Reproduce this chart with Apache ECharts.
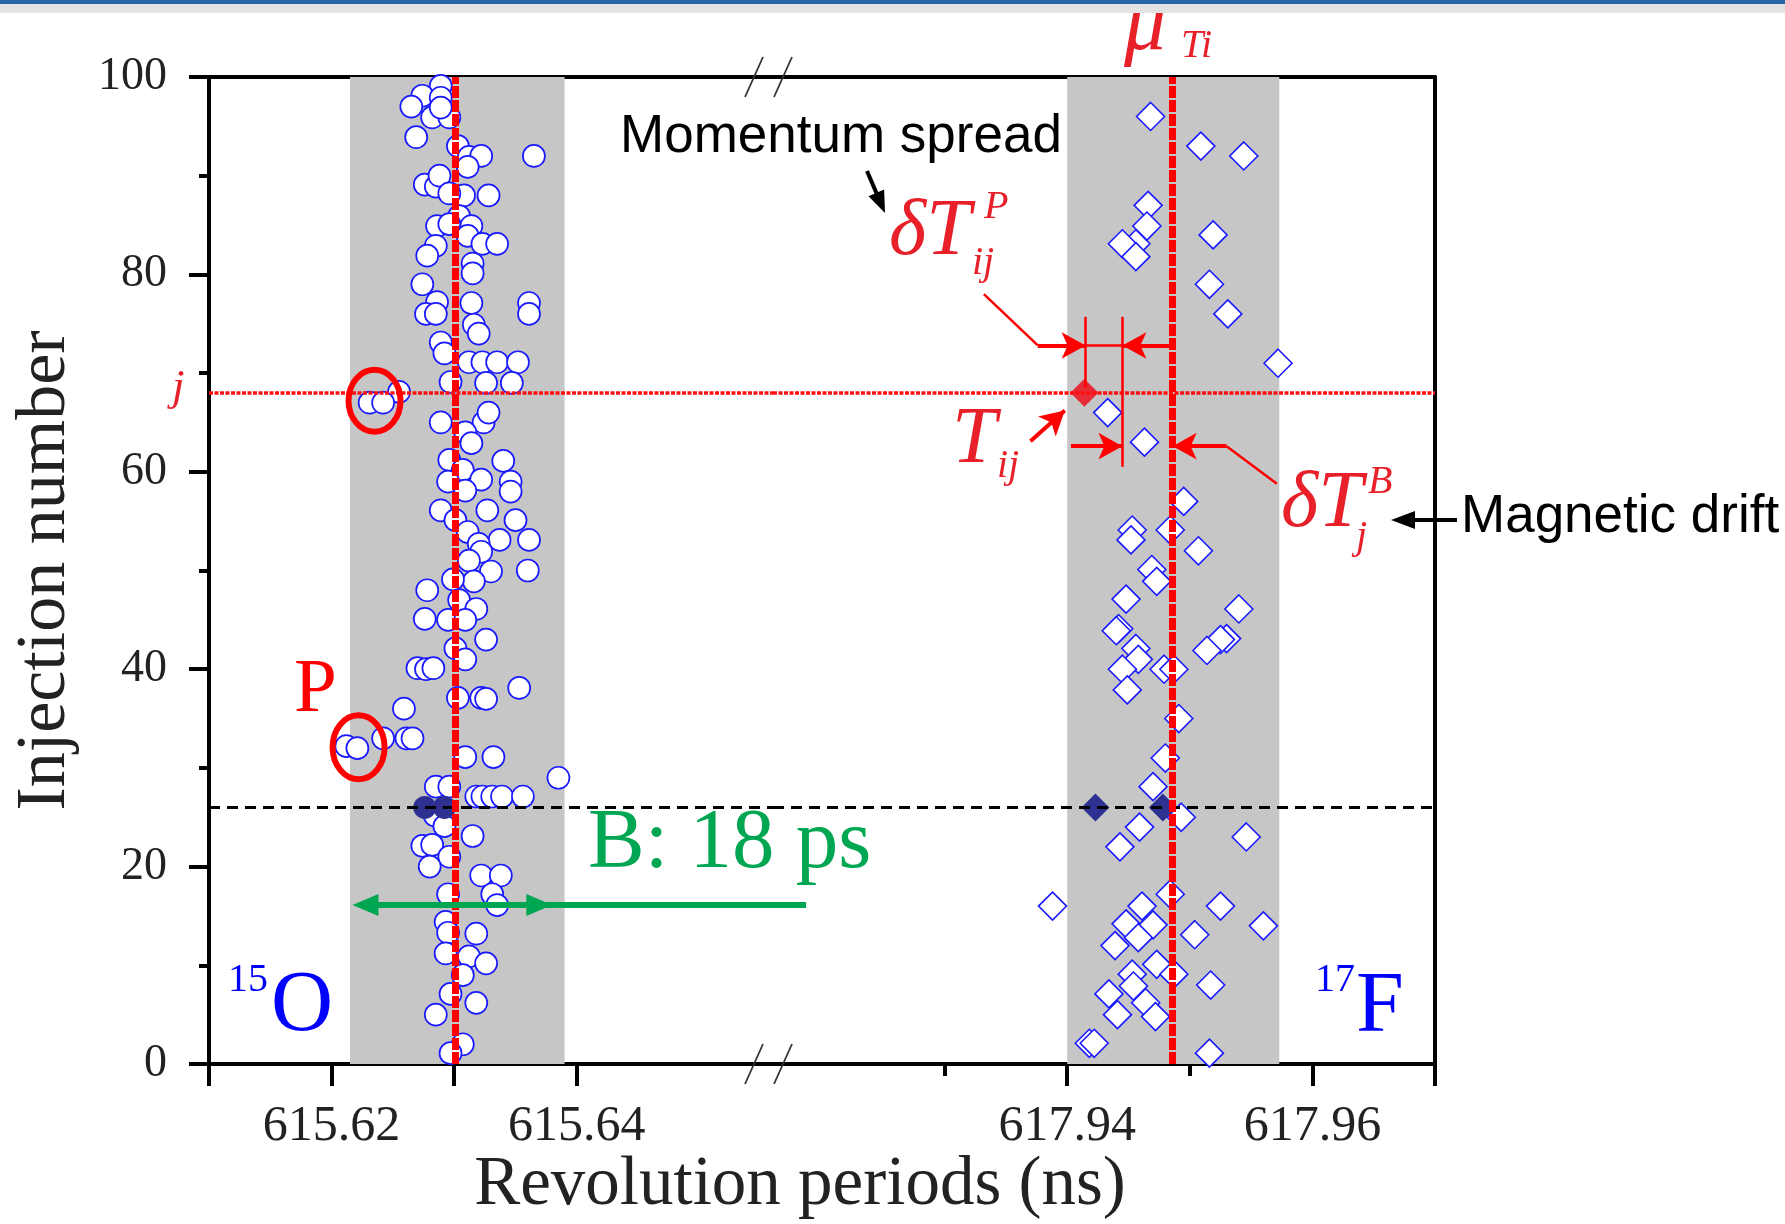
<!DOCTYPE html>
<html><head><meta charset="utf-8">
<script src="https://cdn.jsdelivr.net/npm/echarts@6/dist/echarts.min.js"></script>
<style>html,body{margin:0;padding:0;background:#fff}#c{width:1785px;height:1224px}</style>
</head><body><div id="c"></div>
<script>
// ---- data ----
const O15_period = [615.6289,615.6274,615.6289,615.6265,615.6282,615.6296,615.6289,615.6269,615.6303,615.6312,615.6322,615.6311,615.6365,615.6276,615.6285,615.6288,615.6308,615.6328,615.6296,615.6286,615.6304,615.6314,615.6296,615.6285,615.6311,615.6323,615.6335,615.6278,615.6315,615.6315,615.6274,615.6286,615.6277,615.6285,615.6314,615.6361,615.6361,615.6316,615.6320,615.6289,615.6292,615.6312,615.6323,615.6335,615.6352,615.6297,615.6326,615.6347,615.6255,615.6231,615.6242,615.6289,615.6324,615.6328,615.6309,615.6314,615.6340,615.6296,615.6307,615.6295,615.6322,615.6346,615.6346,615.6309,615.6289,615.6327,615.6301,615.6350,615.6311,615.6337,615.6361,615.6320,
615.6322,615.6312,615.6330,615.6360,615.6316,615.6278,615.6299,615.6304,615.6318,615.6276,615.6295,615.6309,615.6326,615.6301,615.6309,615.6270,615.6277,615.6283,615.6353,615.6303,615.6322,615.6326,615.6259,615.6242,615.6261,615.6266,615.6212,615.6221,615.6309,615.6332,615.6385,615.6285,615.6296,615.6318,615.6323,615.6331,615.6339,615.6356,615.6284,615.6292,615.6315,615.6274,615.6282,615.6296,615.6280,615.6322,615.6338,615.6295,615.6331,615.6335,615.6293,615.6295,615.6318,615.6293,615.6312,615.6326,615.6307,615.6297,615.6318,615.6285,615.6307,615.6297];
const O15_injection = [99.1,98.1,97.9,97.0,95.9,95.9,96.9,93.9,93.0,91.9,92.0,90.9,92.0,89.1,88.9,90.0,88.0,88.0,88.2,84.9,85.9,84.9,85.1,82.9,83.9,83.1,83.1,81.9,81.1,80.1,79.0,77.2,76.0,76.0,77.1,77.1,76.0,74.9,74.0,73.1,72.0,71.1,71.1,71.1,71.1,69.1,69.0,69.0,68.1,67.0,67.0,65.0,65.0,66.0,64.0,62.9,61.1,61.2,60.2,59.0,59.2,59.0,58.0,58.1,56.1,56.1,55.1,55.1,53.9,53.1,53.1,52.7,
51.9,51.0,49.9,50.0,48.9,48.0,49.1,47.0,46.1,45.1,45.0,45.0,43.0,42.1,41.0,40.1,40.0,40.1,38.1,37.1,37.1,37.0,36.0,33.0,33.0,33.0,32.2,32.0,31.1,31.1,29.0,28.1,28.1,27.1,27.1,27.1,27.1,27.1,25.2,24.1,23.1,22.1,22.2,21.0,20.0,19.1,19.1,17.2,17.2,16.1,14.4,13.3,13.2,11.2,10.9,10.2,9.0,7.1,6.2,5.0,2.0,1.1];
const F17_period = [617.9468,617.9509,617.9544,617.9466,617.9465,617.9456,617.9445,617.9456,617.9519,617.9516,617.9531,617.9572,617.9433,617.9463,617.9495,617.9453,617.9452,617.9484,617.9507,617.9469,617.9473,617.9448,617.9540,617.9442,617.9440,617.9456,617.9458,617.9530,617.9525,617.9514,617.9445,617.9449,617.9479,617.9487,617.9491,617.9480,617.9470,617.9493,617.9459,617.9443,617.9546,617.9388,617.9461,617.9484,617.9525,617.9560,617.9448,617.9470,617.9458,617.9439,617.9504,617.9473,617.9453,617.9487,617.9517,617.9434,617.9454,617.9464,617.9441,617.9472,617.9418,617.9422,617.9516];
const F17_injection = [96,93,92,87,84.9,83.1,83.1,81.8,84,79,76,71,66,63,57,54.1,53.1,54.1,52.0,50.1,48.9,47.1,46.1,44.1,43.9,42.1,41.0,43.1,43.0,41.9,40.0,37.9,40.0,40.0,35.0,31.0,28.1,25.0,24.0,22.0,23.0,16.0,16.0,17.2,16.0,14.0,14.2,14.1,12.8,12.0,13.1,10.1,9.1,9.1,8.0,7.1,7.9,6.2,5.0,4.8,2.1,2.1,1.1];
const O15_marked_period = [615.6276, 615.6292];
const F17_marked_period = [617.9423, 617.9478];
const B_injection = 26;             // dashed reference injection
const j_injection = 68;             // injection j
const Tij_period = [617.9414];
const mu_O15 = 615.6301, mu_F17 = 617.9486;
const O15_band = [615.6215, 615.6390];
const F17_band = [617.9400, 617.9573];
const xTicksLeft = [615.61, 615.62, 615.63, 615.64];
const xLabelsLeft = [615.62, 615.64];
const xTicksRight = [617.94, 617.96, 617.97];
const xMinorRight = [617.93, 617.95];
const xLabelsRight = [617.94, 617.96];

const pairs = (xs, ys) => xs.map((x, i) => [x, Array.isArray(ys) ? ys[i] : ys]);

const SERIF = '"Liberation Serif", "Times New Roman", serif';
const SANS = '"Liberation Sans", Arial, sans-serif';
const chart = echarts.init(document.getElementById('c'), null, {renderer: 'canvas'});

const G0 = {left: 209, top: 77, width: 564, height: 987};
const G1 = {left: 773, top: 77, width: 662, height: 987};
const LINE = {color: '#000', width: 4};

function xAx(grid, min, max, pos, ticks, labels, tickLen, showLine) {
  return {
    gridIndex: grid, type: 'value', min: min, max: max, position: pos,
    axisLine: {show: showLine, onZero: false, lineStyle: LINE},
    axisTick: ticks ? {show: true, inside: false, length: tickLen, customValues: ticks, lineStyle: {color: '#000', width: 4}} : {show: false},
    axisLabel: labels ? {show: true, customValues: labels, formatter: v => Number(v).toFixed(2), fontFamily: SERIF, fontSize: 50, color: '#222', margin: 38} : {show: false},
    splitLine: {show: false}, minorTick: {show: false}
  };
}

const option = {
  animation: false,
  backgroundColor: '#fff',
  textStyle: {fontFamily: SERIF},
  grid: [G0, G1],
  xAxis: [
    xAx(0, 615.61, 615.656, 'bottom', xTicksLeft, xLabelsLeft, 22, true),
    xAx(0, 615.61, 615.656, 'top', null, null, 0, true),
    xAx(1, 617.916, 617.97, 'bottom', xTicksRight, xLabelsRight, 22, true),
    xAx(1, 617.916, 617.97, 'top', null, null, 0, true),
    xAx(1, 617.916, 617.97, 'bottom', xMinorRight, null, 12, false)
  ],
  yAxis: [
    {gridIndex: 0, type: 'value', min: 0, max: 100, interval: 20, position: 'left',
     axisLine: {show: true, onZero: false, lineStyle: LINE},
     axisTick: {show: true, length: 20, lineStyle: {color: '#000', width: 4}},
     minorTick: {show: true, splitNumber: 2, length: 10, lineStyle: {color: '#000', width: 4}},
     axisLabel: {fontFamily: SERIF, fontSize: 46, color: '#222', margin: 42},
     splitLine: {show: false}, minorSplitLine: {show: false},
     name: 'Injection number', nameLocation: 'middle', nameGap: 128,
     nameTextStyle: {fontFamily: SERIF, fontSize: 70, color: '#222'}},
    {gridIndex: 1, type: 'value', min: 0, max: 100, position: 'right',
     axisLine: {show: true, onZero: false, lineStyle: LINE},
     axisTick: {show: false}, axisLabel: {show: false}, splitLine: {show: false}}
  ],
  series: [
    // gray bands
    {type: 'scatter', xAxisIndex: 0, yAxisIndex: 0, data: [], z: 0, silent: true,
     markArea: {silent: true, precision: 6, itemStyle: {color: '#c6c6c6'}, data: [[{xAxis: O15_band[0]}, {xAxis: O15_band[1]}]]}},
    {type: 'scatter', xAxisIndex: 2, yAxisIndex: 1, data: [], z: 0, silent: true,
     markArea: {silent: true, precision: 6, itemStyle: {color: '#c6c6c6'}, data: [[{xAxis: F17_band[0]}, {xAxis: F17_band[1]}]]}},
    // horizontal reference lines
    ...[[0, 0], [2, 1]].map(([xi, yi]) => ({
      type: 'scatter', xAxisIndex: xi, yAxisIndex: yi, data: [], z: 1, silent: true,
      markLine: {silent: true, precision: 6, symbol: 'none', label: {show: false}, data: [
        {yAxis: B_injection, lineStyle: {color: '#000', width: 3, type: [11, 7]}},
        {yAxis: j_injection, lineStyle: {color: '#ff1010', width: 3.5, type: [4, 1.5]}}
      ]}
    })),
    // 15O
    {name: '15O', type: 'scatter', xAxisIndex: 0, yAxisIndex: 0, z: 3, symbol: 'circle', symbolSize: 22,
     itemStyle: {color: '#fff', borderColor: '#1a1aff', borderWidth: 1.7, opacity: 1},
     data: pairs(O15_period, O15_injection)},
    {type: 'scatter', xAxisIndex: 0, yAxisIndex: 0, z: 4, symbol: 'circle', symbolSize: 23,
     itemStyle: {color: '#2e3192', opacity: 1}, data: pairs(O15_marked_period, B_injection)},
    // 17F
    {name: '17F', type: 'scatter', xAxisIndex: 2, yAxisIndex: 1, z: 3, symbol: 'diamond', symbolSize: 28,
     itemStyle: {color: '#fff', borderColor: '#1a1aff', borderWidth: 1.6, opacity: 1},
     data: pairs(F17_period, F17_injection)},
    {type: 'scatter', xAxisIndex: 2, yAxisIndex: 1, z: 4, symbol: 'diamond', symbolSize: 28,
     itemStyle: {color: '#2e3192', opacity: 1}, data: pairs(F17_marked_period, B_injection)},
    {type: 'scatter', xAxisIndex: 2, yAxisIndex: 1, z: 4, symbol: 'diamond', symbolSize: 28,
     itemStyle: {color: '#e8202a', opacity: 0.92}, data: pairs(Tij_period, j_injection)},
    // mean lines
    {type: 'scatter', xAxisIndex: 0, yAxisIndex: 0, data: [], z: 6, silent: true,
     markLine: {silent: true, precision: 6, symbol: 'none', label: {show: false}, lineStyle: {color: '#ff0000', width: 7, type: [12, 2]},
       data: [{xAxis: mu_O15}]}},
    {type: 'scatter', xAxisIndex: 2, yAxisIndex: 1, data: [], z: 6, silent: true,
     markLine: {silent: true, precision: 6, symbol: 'none', label: {show: false}, lineStyle: {color: '#ff0000', width: 7, type: [12, 2]},
       data: [{xAxis: mu_F17}]}},
    // annotation arrows (delta T construction)
    {type: 'scatter', xAxisIndex: 2, yAxisIndex: 1, data: [], z: 7, silent: true,
     markLine: {silent: true, precision: 6, symbolSize: [20, 24], label: {show: false},
       lineStyle: {color: '#ff0000', width: 4, type: 'solid'},
       data: [
         [{coord: [617.9415, 75.7], symbol: 'none', lineStyle: {width: 2.5}}, {coord: [617.9415, 68.5], symbol: 'none'}],
         [{coord: [617.9445, 75.7], symbol: 'none', lineStyle: {width: 2.5}}, {coord: [617.9445, 60.5], symbol: 'none'}],
         [{coord: [617.9376, 72.8], symbol: 'none'}, {coord: [617.9415, 72.8], symbol: 'arrow'}],
         [{coord: [617.9415, 72.8], symbol: 'none', lineStyle: {width: 2.5}}, {coord: [617.9445, 72.8], symbol: 'none'}],
         [{coord: [mu_F17, 72.8], symbol: 'none'}, {coord: [617.9445, 72.8], symbol: 'arrow'}],
         [{coord: [617.9376, 72.8], symbol: 'none', lineStyle: {width: 2.5}}, {coord: [617.9332, 78.0], symbol: 'none'}],
         [{coord: [617.9403, 62.6], symbol: 'none'}, {coord: [617.9445, 62.6], symbol: 'arrow'}],
         [{coord: [617.9530, 62.6], symbol: 'none'}, {coord: [mu_F17, 62.6], symbol: 'arrow'}],
         [{coord: [617.9530, 62.6], symbol: 'none', lineStyle: {width: 2.5}}, {coord: [617.9571, 58.8], symbol: 'none'}],
         [{coord: [617.9370, 63.1], symbol: 'none'}, {coord: [617.9398, 66.2], symbol: 'arrow'}]
       ]}}
  ]
};

// text annotations
function T(text, x, y, font, fill, align) {
  return {type: 'text', z: 100, silent: true, style: {text: text, x: x, y: y, font: font, fill: fill,
    align: align || 'left', verticalAlign: 'middle', textAlign: align || 'left', textVerticalAlign: 'middle'}};
}
const RED = '#e8202a';
const texts = [
  T('Momentum spread', 620, 137, '53px ' + SANS, '#000'),
  T('Magnetic drift', 1461, 517, '53px ' + SANS, '#000'),
  T('\u03bc', 1124, 27, 'italic 84px ' + SERIF, RED),
  T('Ti', 1181, 46, 'italic 40px ' + SERIF, RED),
  T('\u03b4T', 889, 233, 'italic 80px ' + SERIF, RED),
  T('P', 984, 207, 'italic 40px ' + SERIF, RED),
  T('ij', 972, 263, 'italic 40px ' + SERIF, RED),
  T('T', 952, 441, 'italic 80px ' + SERIF, RED),
  T('ij', 997, 466, 'italic 40px ' + SERIF, RED),
  T('\u03b4T', 1281, 505, 'italic 80px ' + SERIF, RED),
  T('B', 1368, 482, 'italic 40px ' + SERIF, RED),
  T('j', 1356, 537, 'italic 40px ' + SERIF, RED),
  T('P', 294, 691, '77px ' + SERIF, '#ff0000'),
  T('B: 18 ps', 588, 845, '85px ' + SERIF, '#00a651'),
  T('15', 228, 980, '40px ' + SERIF, '#0000ff'),
  T('O', 271, 1007, '86px ' + SERIF, '#0000ff'),
  T('17', 1315, 980, '40px ' + SERIF, '#0000ff'),
  T('F', 1356, 1008, '86px ' + SERIF, '#0000ff'),
  T('j', 172, 388, 'italic 45px ' + SERIF, RED),
  T('Revolution periods (ns)', 800, 1186, '69px ' + SERIF, '#222', 'center')
];

function arrow(x1, y1, x2, y2, color, w, hl, hw) {
  const dx = x2 - x1, dy = y2 - y1, L = Math.hypot(dx, dy), ux = dx / L, uy = dy / L;
  const bx = x2 - ux * hl, by = y2 - uy * hl;
  return [
    {type: 'line', z: 100, silent: true, shape: {x1: x1, y1: y1, x2: bx + ux * 2, y2: by + uy * 2}, style: {stroke: color, lineWidth: w}},
    {type: 'polygon', z: 100, silent: true, shape: {points: [[x2, y2], [bx - uy * hw / 2, by + ux * hw / 2], [bx + uy * hw / 2, by - ux * hw / 2]]}, style: {fill: color}}
  ];
}

const deco = [
  {type: 'rect', z: 100, silent: true, shape: {x: 0, y: 0, width: 1785, height: 4}, style: {fill: '#2a64a8'}},
  {type: 'rect', z: 100, silent: true, shape: {x: 0, y: 4, width: 1785, height: 9}, style: {fill: '#e3e3e3'}},
  ...arrow(867, 171, 885, 213, '#000', 4, 22, 17),
  ...arrow(1457, 520, 1391, 520, '#000', 4, 24, 18)
];

option.graphic = {elements: texts.concat(deco)};
chart.setOption(option);

// annotations anchored to the data scale
const p0 = v => chart.convertToPixel({xAxisIndex: 0, yAxisIndex: 0}, v);
const gy = p0([615.62, 16.1])[1];
const gx1 = p0([615.6217, 0])[0], gx2 = p0([615.6380, 0])[0], gx3 = p0([615.6587, 0])[0];
const GREEN = '#00a651';
const c1 = p0([615.6235, 67.2]), c2 = p0([615.6222, 32.1]);
const bottomY = p0([615.62, 0])[1], topY = p0([615.62, 100])[1];
const bx = 773;
const breakMarks = [];
[bottomY, topY].forEach(y => {
  [bx - 19, bx + 10].forEach(x => {
    breakMarks.push({type: 'line', z: 100, silent: true, shape: {x1: x - 9, y1: y + 20, x2: x + 9, y2: y - 20}, style: {stroke: '#333', lineWidth: 1.8}});
  });
});
const extra = [
  {type: 'line', z: 100, silent: true, shape: {x1: gx1 + 20, y1: gy, x2: gx3, y2: gy}, style: {stroke: GREEN, lineWidth: 6}},
  {type: 'polygon', z: 100, silent: true, shape: {points: [[gx1, gy], [gx1 + 26, gy - 11], [gx1 + 26, gy + 11]]}, style: {fill: GREEN}},
  {type: 'polygon', z: 100, silent: true, shape: {points: [[gx2, gy], [gx2 - 26, gy - 11], [gx2 - 26, gy + 11]]}, style: {fill: GREEN}},
  {type: 'ellipse', z: 100, silent: true, shape: {cx: c1[0], cy: c1[1], rx: 26, ry: 31}, style: {stroke: '#ff0000', lineWidth: 6, fill: 'none'}},
  {type: 'ellipse', z: 100, silent: true, shape: {cx: c2[0], cy: c2[1], rx: 26, ry: 32}, style: {stroke: '#ff0000', lineWidth: 6, fill: 'none'}}
].concat(breakMarks);
chart.setOption({graphic: {elements: texts.concat(deco, extra)}});
</script>
</body></html>
